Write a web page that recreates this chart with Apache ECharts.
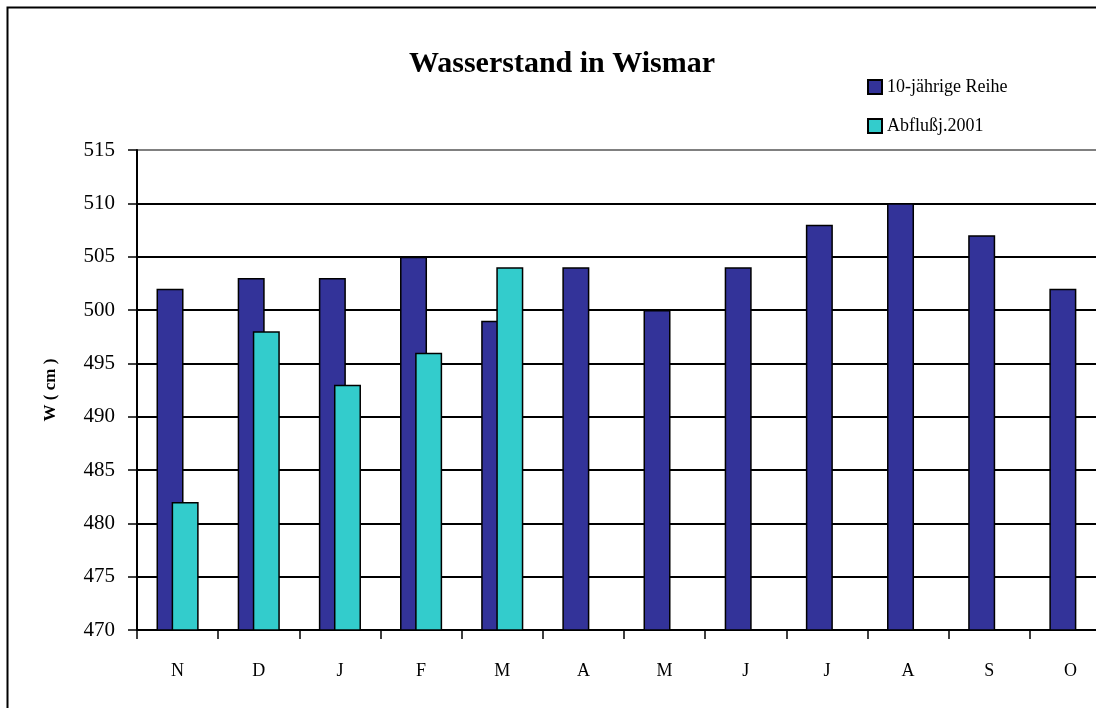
<!DOCTYPE html>
<html>
<head>
<meta charset="utf-8">
<script src="https://cdn.jsdelivr.net/npm/echarts@6/dist/echarts.min.js"></script>
<style>
  html, body { margin: 0; padding: 0; background: #fff; overflow: hidden; }
  #chart { width: 1130px; height: 708px; }
</style>
</head>
<body>
<div id="chart"></div>
<script>
// Monate im Abflussjahr (Nov - Okt)
var months = ["N", "D", "J", "F", "M", "A", "M", "J", "J", "A", "S", "O"];
var reihe10 = [502, 503, 503, 505, 499, 504, 500, 504, 508, 510, 507, 502];
var abfluss2001 = [482, 498, 493, 496, 504, null, null, null, null, null, null, null];
var yTicks = [470, 475, 480, 485, 490, 495, 500, 505, 510, 515];

var serif = "'Liberation Serif', 'Times New Roman', serif";
var chart = echarts.init(document.getElementById("chart"));

// Gitterlinien schwarz, oberste grau
var gridColors = yTicks.map(function (v, i) {
  return i === yTicks.length - 1 ? "#808080" : "#000";
});

chart.setOption({
  animation: false,
  backgroundColor: "#fff",
  title: {
    text: "Wasserstand in Wismar",
    left: 557,
    textAlign: "center",
    top: 44,
    textStyle: { fontFamily: serif, fontSize: 30, fontWeight: "bold", color: "#000" }
  },
  legend: {
    orient: "vertical",
    left: 862,
    top: 73,
    itemWidth: 14,
    itemHeight: 14,
    itemGap: 21,
    icon: "rect",
    textStyle: { fontFamily: serif, fontSize: 18, color: "#000" },
    data: ["10-jährige Reihe", "Abflußj.2001"]
  },
  graphic: [{
    type: "rect",
    shape: { x: 7.5, y: 7.5, width: 1200, height: 800 },
    style: { fill: null, stroke: "#000", lineWidth: 2 },
    silent: true
  }],
  grid: { left: 137, right: 19, top: 150, bottom: 78 },
  xAxis: {
    type: "category",
    data: months,
    axisLine: { lineStyle: { color: "#000", width: 2 } },
    axisTick: { show: true, length: 9, lineStyle: { color: "#000", width: 1.5 } },
    axisLabel: { fontFamily: serif, fontSize: 18, color: "#000", margin: 32 }
  },
  yAxis: {
    type: "value",
    min: 470,
    max: 515,
    interval: 5,
    name: "W ( cm )",
    nameLocation: "middle",
    nameGap: 78,
    nameTextStyle: { fontFamily: serif, fontSize: 17, fontWeight: "bold", color: "#000" },
    axisLine: { show: true, lineStyle: { color: "#000", width: 2 } },
    axisTick: { show: true, length: 9, lineStyle: { color: "#000", width: 1.5 } },
    axisLabel: { fontFamily: serif, fontSize: 21, color: "#000", margin: 22 },
    splitLine: { show: true, lineStyle: { color: gridColors, width: 2 } }
  },
  series: [
    {
      name: "10-jährige Reihe",
      type: "bar",
      data: reihe10,
      barWidth: 27,
      barGap: "-44%",
      itemStyle: { color: "#333399", borderColor: "#000", borderWidth: 1.5 }
    },
    {
      name: "Abflußj.2001",
      type: "bar",
      data: abfluss2001,
      barWidth: 27,
      itemStyle: { color: "#33CCCC", borderColor: "#000", borderWidth: 1.5 }
    }
  ]
});
</script>
</body>
</html>
